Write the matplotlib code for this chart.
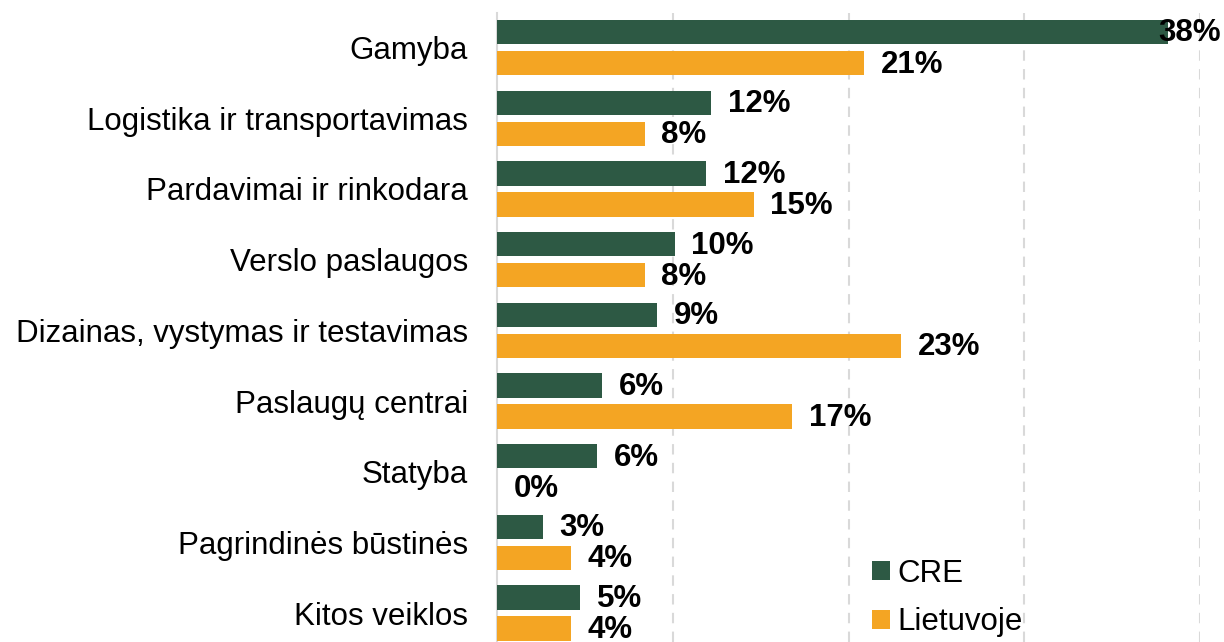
import matplotlib
matplotlib.use('Agg')
import matplotlib.pyplot as plt
import numpy as np
from matplotlib.patches import Patch

plt.rcParams['font.family'] = ['Liberation Sans', 'DejaVu Sans']

kategorijos = ['Gamyba', 'Logistika ir transportavimas', 'Pardavimai ir rinkodara',
               'Verslo paslaugos', 'Dizainas, vystymas ir testavimas', 'Paslaugų centrai',
               'Statyba', 'Pagrindinės būstinės', 'Kitos veiklos']
# reiksmes (%), nuskaitytos nuo stulpeliu ilgio
cre = [38.2, 12.2, 11.9, 10.1, 9.1, 6.0, 5.7, 2.6, 4.75]
lietuvoje = [20.9, 8.4, 14.6, 8.4, 23.0, 16.8, 0.0, 4.2, 4.2]

spalva_cre = '#2D5944'
spalva_lt = '#F4A523'

fig = plt.figure(figsize=(12.24, 6.42), dpi=100)
ax = fig.add_axes([497/1224, 0.0, 703/1224, 1 - 13/642])

y = np.arange(len(kategorijos))
aukstis = 0.345
poslinkis = 0.22

ax.barh(y - poslinkis, cre, height=aukstis, color=spalva_cre, zorder=3)
ax.barh(y + poslinkis, lietuvoje, height=aukstis, color=spalva_lt, zorder=3)

for i in range(len(kategorijos)):
    for v, yy in [(cre[i], y[i] - poslinkis), (lietuvoje[i], y[i] + poslinkis)]:
        xt = min(v + 0.95, 37.6)
        ax.text(xt, yy + 0.02, '{:.0f}%'.format(v), ha='left', va='center',
                fontsize=22.5, fontweight='bold', color='black', zorder=5, clip_on=False)

ax.set_xlim(0, 40)
ax.set_ylim(8.41, -0.49)
ax.set_yticks(y)
ax.set_yticklabels(kategorijos, fontsize=22.5)
ax.set_xticks([10, 20, 30, 40])
ax.tick_params(axis='y', length=0, pad=21)
ax.tick_params(axis='x', length=0, labelbottom=False)
ax.grid(axis='x', color='#D9D9D9', linestyle=(0, (5, 4)), linewidth=1.5, zorder=0)

for s in ['top', 'right', 'bottom']:
    ax.spines[s].set_visible(False)
ax.spines['left'].set_color('#D9D9D9')
ax.spines['left'].set_linewidth(1.5)

ranka = [Patch(facecolor=spalva_cre, label='CRE'), Patch(facecolor=spalva_lt, label='Lietuvoje')]
ax.legend(handles=ranka, loc='lower left', bbox_to_anchor=(0.527, 0.0), frameon=False,
          fontsize=22.5, handlelength=0.56, handleheight=0.56, handletextpad=0.25,
          labelspacing=0.6, borderpad=0.15, borderaxespad=0)

plt.savefig('out.png', dpi=100)
